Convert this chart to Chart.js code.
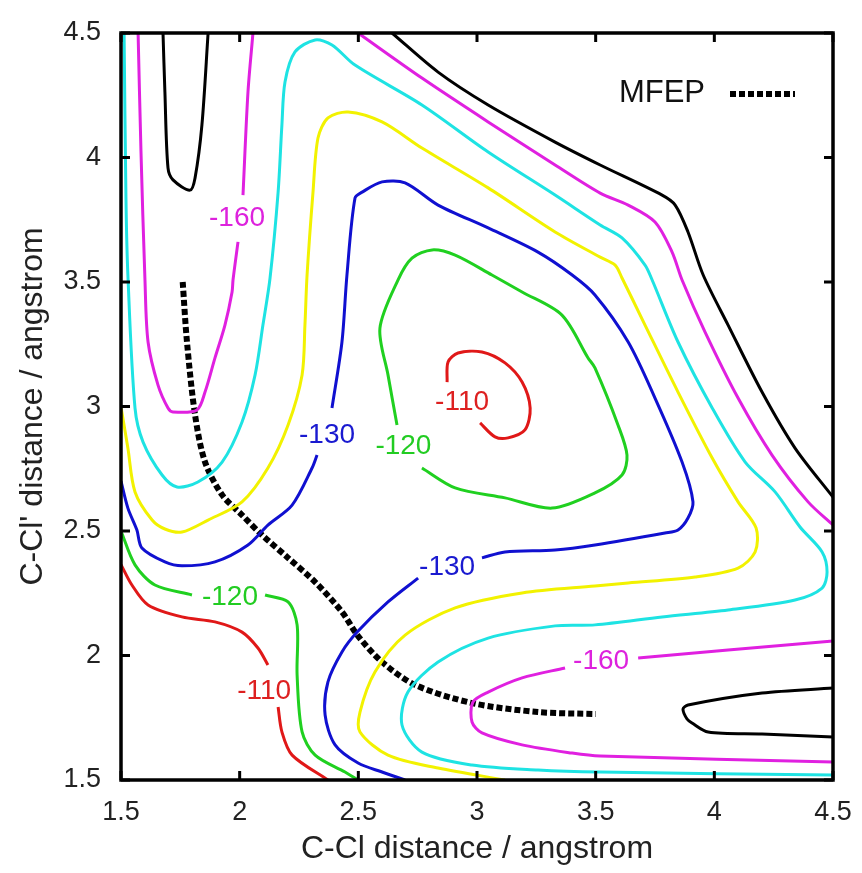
<!DOCTYPE html>
<html>
<head>
<meta charset="utf-8">
<script src="https://cdn.jsdelivr.net/npm/chart.js@4.4.1/dist/chart.umd.min.js"></script>
<style>
  html, body { margin: 0; padding: 0; background: #fff; }
</style>
</head>
<body>
<canvas id="contour" width="862" height="873"></canvas>
<script>
// tick positions (angstrom)
const xTicks = [1.5, 2, 2.5, 3, 3.5, 4, 4.5];
const yTicks = [1.5, 2, 2.5, 3, 3.5, 4, 4.5];

// free energy contour lines, points are [C-Cl, C-Cl'] in angstrom
// -170 level
const black_topLeft = [[1.677,4.50],[1.685,4.263],[1.698,3.958],[1.719,3.910],[1.791,3.869],[1.812,3.918],[1.841,4.131],[1.867,4.50]];
const black_topRight = [[2.642,4.50],[2.836,4.343],[3.047,4.211],[3.329,4.062],[3.519,3.970],[3.780,3.849],[3.835,3.809],[3.889,3.701],[3.953,3.528],[4.058,3.327],[4.201,3.058],[4.340,2.833],[4.50,2.636]];
const black_bottomRight = [[4.50,1.869],[4.201,1.849],[3.889,1.801],[3.868,1.785],[3.885,1.745],[3.906,1.729],[3.974,1.693],[4.201,1.685],[4.50,1.673]];
// -160 level
const magenta_leftA = [[1.572,4.50],[1.584,4.030],[1.601,3.508],[1.614,3.259],[1.656,3.086],[1.698,2.994],[1.719,2.978],[1.820,2.986],[1.854,3.058],[1.896,3.195],[1.938,3.327],[1.968,3.460],[1.972,3.508],[1.993,3.661]];
const magenta_leftB = [[2.014,3.849],[2.035,4.263],[2.056,4.50]];
const magenta_topRight = [[2.499,4.50],[2.768,4.319],[3.047,4.143],[3.329,3.970],[3.519,3.857],[3.637,3.809],[3.750,3.741],[3.822,3.620],[3.864,3.508],[3.961,3.299],[4.100,3.034],[4.243,2.805],[4.395,2.617],[4.50,2.524]];
const magenta_bottomA = [[4.50,2.058],[4.058,2.022],[3.679,1.990]];
const magenta_bottomB = [[3.371,1.950],[3.190,1.910],[3.047,1.853],[2.983,1.813],[2.979,1.733],[3.021,1.689],[3.190,1.641],[3.401,1.608],[3.519,1.596],[4.50,1.572]];
// -150 level
const cyan_main = [[1.513,4.50],[1.521,3.829],[1.529,3.528],[1.559,2.994],[1.593,2.857],[1.673,2.725],[1.736,2.677],[1.824,2.697],[1.926,2.777],[2.010,2.938],[2.065,3.127],[2.098,3.327],[2.128,3.516],[2.162,3.861],[2.178,4.131],[2.191,4.303],[2.233,4.424],[2.318,4.472],[2.389,4.452],[2.486,4.371],[2.768,4.211],[3.047,4.022],[3.329,3.849],[3.519,3.729],[3.611,3.677],[3.708,3.568],[3.738,3.508],[3.847,3.259],[3.991,2.994],[4.130,2.777],[4.256,2.657],[4.361,2.516],[4.454,2.416],[4.475,2.335],[4.454,2.271],[4.340,2.223],[4.058,2.183],[3.780,2.155],[3.497,2.123],[3.329,2.119],[3.047,2.070],[2.836,1.974],[2.709,1.853],[2.684,1.721],[2.768,1.612],[2.979,1.560],[3.257,1.540],[3.519,1.532],[4.50,1.520]];
// -140 level
const yellow_main = [[1.50,2.998],[1.529,2.833],[1.559,2.657],[1.631,2.544],[1.685,2.508],[1.757,2.496],[1.867,2.544],[2.010,2.617],[2.119,2.753],[2.204,2.926],[2.263,3.127],[2.275,3.327],[2.284,3.528],[2.309,3.861],[2.330,4.078],[2.372,4.159],[2.457,4.183],[2.600,4.143],[2.768,4.038],[3.047,3.878],[3.329,3.701],[3.519,3.600],[3.582,3.568],[3.611,3.516],[3.708,3.327],[3.847,3.058],[3.991,2.793],[4.100,2.617],[4.176,2.512],[4.172,2.416],[4.100,2.351],[3.919,2.315],[3.637,2.291],[3.497,2.279],[3.190,2.251],[2.908,2.191],[2.697,2.082],[2.570,1.934],[2.507,1.773],[2.507,1.693],[2.625,1.600],[2.836,1.548],[3.118,1.50]];
// -130 level
const blue_a = [[1.50,2.700],[1.529,2.592],[1.567,2.504],[1.588,2.432],[1.685,2.376],[1.757,2.360],[1.896,2.376],[2.035,2.444],[2.119,2.524],[2.221,2.604],[2.305,2.753],[2.326,2.805]];
const blue_b = [[2.389,2.994],[2.431,3.259],[2.452,3.528],[2.486,3.837],[2.516,3.861],[2.600,3.902],[2.697,3.898],[2.836,3.809],[3.047,3.717],[3.257,3.620],[3.401,3.528],[3.497,3.448],[3.637,3.259],[3.750,3.034],[3.864,2.777],[3.910,2.617],[3.889,2.552],[3.847,2.504],[3.792,2.492],[3.497,2.444],[3.329,2.424],[3.118,2.416],[3.021,2.392]];
const blue_c = [[2.752,2.311],[2.625,2.215],[2.495,2.094],[2.431,2.014],[2.372,1.894],[2.360,1.761],[2.402,1.641],[2.499,1.568],[2.600,1.532],[2.697,1.50]];
// -120 level
const green_leftA = [[1.50,2.500],[1.559,2.364],[1.643,2.283],[1.799,2.243]];
const green_leftB = [[2.107,2.243],[2.204,2.215],[2.242,2.123],[2.242,1.922],[2.263,1.693],[2.318,1.600],[2.444,1.532],[2.499,1.50]];
const green_center = [[2.768,2.753],[2.908,2.673],[3.118,2.633],[3.316,2.592],[3.497,2.653],[3.611,2.725],[3.632,2.805],[3.594,2.926],[3.497,3.155],[3.468,3.195],[3.358,3.367],[3.190,3.460],[3.063,3.528],[2.908,3.608],[2.811,3.629],[2.726,3.596],[2.667,3.508],[2.591,3.315],[2.625,3.127],[2.663,2.926]];
// -110 level
const red_center = [[3.013,2.934],[3.076,2.878],[3.131,2.874],[3.202,2.906],[3.224,2.994],[3.190,3.098],[3.118,3.175],[3.021,3.219],[2.920,3.215],[2.878,3.179],[2.874,3.098]];
const red_leftA = [[1.50,2.365],[1.546,2.283],[1.614,2.203],[1.757,2.155],[1.896,2.135],[2.010,2.094],[2.077,2.030],[2.119,1.962]];
const red_leftB = [[2.162,1.793],[2.178,1.693],[2.221,1.600],[2.372,1.50]];

// minimum free energy path
const mfep = [[1.76,3.50],[1.778,3.259],[1.812,2.966],[1.854,2.777],[1.926,2.645],[2.010,2.564],[2.094,2.484],[2.204,2.392],[2.318,2.295],[2.431,2.175],[2.499,2.078],[2.600,1.974],[2.739,1.882],[2.979,1.809],[3.257,1.773],[3.50,1.765]];

// inline level labels
const levelLabels = [
  { x: 1.989, y: 3.757, text: '-160', color: '#dd22dd' },
  { x: 2.368, y: 2.886, text: '-130', color: '#1a1ad0' },
  { x: 2.690, y: 2.841, text: '-120', color: '#22cc22' },
  { x: 2.937, y: 3.018, text: '-110', color: '#dd2020' },
  { x: 2.874, y: 2.356, text: '-130', color: '#1a1ad0' },
  { x: 1.959, y: 2.235, text: '-120', color: '#22cc22' },
  { x: 2.103, y: 1.857, text: '-110', color: '#dd2020' },
  { x: 3.523, y: 1.978, text: '-160', color: '#dd22dd' },
];

const BLACK = '#000000', MAGENTA = '#e020e0', CYAN = '#1ee3e3', YELLOW = '#f2f200',
      BLUE = '#1010d0', GREEN = '#20d020', RED = '#e01818';

const lines = [
  [black_topLeft, BLACK], [black_topRight, BLACK], [black_bottomRight, BLACK],
  [magenta_leftA, MAGENTA], [magenta_leftB, MAGENTA], [magenta_topRight, MAGENTA],
  [magenta_bottomA, MAGENTA], [magenta_bottomB, MAGENTA],
  [cyan_main, CYAN],
  [yellow_main, YELLOW],
  [blue_a, BLUE], [blue_b, BLUE], [blue_c, BLUE],
  [green_leftA, GREEN], [green_leftB, GREEN], [green_center, GREEN],
  [red_center, RED], [red_leftA, RED], [red_leftB, RED],
];

const toXY = pts => pts.map(([x, y]) => ({ x, y }));

const datasets = lines.map(([pts, color]) => ({
  data: toXY(pts),
  showLine: true,
  borderColor: color,
  borderWidth: 3,
  pointRadius: 0,
  tension: 0.3,
  fill: false,
}));

datasets.push({
  label: 'MFEP',
  data: toXY(mfep),
  showLine: true,
  borderColor: '#000',
  borderWidth: 6,
  borderDash: [6, 3],
  borderCapStyle: 'butt',
  pointRadius: 0,
  tension: 0.3,
  fill: false,
});

const FONT = '"Liberation Sans", Arial, Helvetica, sans-serif';

// frame, inward ticks, level labels and the key
const overlay = {
  id: 'overlay',
  afterDatasetsDraw(chart) {
    const { ctx, chartArea: a, scales: { x, y } } = chart;
    ctx.save();

    ctx.font = '28px ' + FONT;
    ctx.textAlign = 'center';
    ctx.textBaseline = 'middle';
    levelLabels.forEach(l => {
      ctx.fillStyle = l.color;
      ctx.fillText(l.text, x.getPixelForValue(l.x), y.getPixelForValue(l.y));
    });

    ctx.strokeStyle = '#000';
    ctx.lineWidth = 3.5;
    ctx.strokeRect(a.left, a.top, a.right - a.left, a.bottom - a.top);

    ctx.lineWidth = 3;
    ctx.beginPath();
    xTicks.forEach(v => {
      const px = x.getPixelForValue(v);
      ctx.moveTo(px, a.bottom); ctx.lineTo(px, a.bottom - 9);
      ctx.moveTo(px, a.top); ctx.lineTo(px, a.top + 9);
    });
    yTicks.forEach(v => {
      const py = y.getPixelForValue(v);
      ctx.moveTo(a.left, py); ctx.lineTo(a.left + 9, py);
      ctx.moveTo(a.right, py); ctx.lineTo(a.right - 9, py);
    });
    ctx.stroke();

    // key
    ctx.fillStyle = '#111';
    ctx.font = '31px ' + FONT;
    ctx.textAlign = 'right';
    ctx.fillText('MFEP', 705, 93);
    ctx.lineWidth = 6;
    ctx.setLineDash([6, 3]);
    ctx.lineCap = 'butt';
    ctx.beginPath();
    ctx.moveTo(730, 94);
    ctx.lineTo(795, 94);
    ctx.stroke();

    ctx.restore();
  }
};

const tickText = v => String(v);

new Chart(document.getElementById('contour').getContext('2d'), {
  type: 'scatter',
  data: { datasets },
  options: {
    responsive: false,
    animation: false,
    layout: { padding: { top: 33, right: 29, left: 0, bottom: 0 } },
    plugins: { legend: { display: false }, tooltip: { enabled: false } },
    scales: {
      x: {
        type: 'linear',
        min: 1.5,
        max: 4.5,
        afterBuildTicks: s => { s.ticks = xTicks.map(v => ({ value: v })); },
        afterFit: s => { s.height = 93; },
        grid: { display: false },
        border: { display: false },
        ticks: { color: '#222', font: { size: 27, family: FONT }, padding: 8, maxRotation: 0, autoSkip: false, callback: tickText },
        title: {
          display: true,
          text: 'C-Cl distance / angstrom',
          color: '#222',
          font: { size: 32, family: FONT },
          padding: { top: 0, bottom: 5 },
        },
      },
      y: {
        type: 'linear',
        min: 1.5,
        max: 4.5,
        afterBuildTicks: s => { s.ticks = yTicks.map(v => ({ value: v })); },
        afterFit: s => { s.width = 121; },
        grid: { display: false },
        border: { display: false },
        ticks: { color: '#222', font: { size: 27, family: FONT }, padding: 12, autoSkip: false, callback: tickText },
        title: {
          display: true,
          text: "C-Cl' distance / angstrom",
          color: '#222',
          font: { size: 32, family: FONT },
          padding: { top: 14, bottom: 0 },
        },
      },
    },
  },
  plugins: [overlay],
});
</script>
</body>
</html>
